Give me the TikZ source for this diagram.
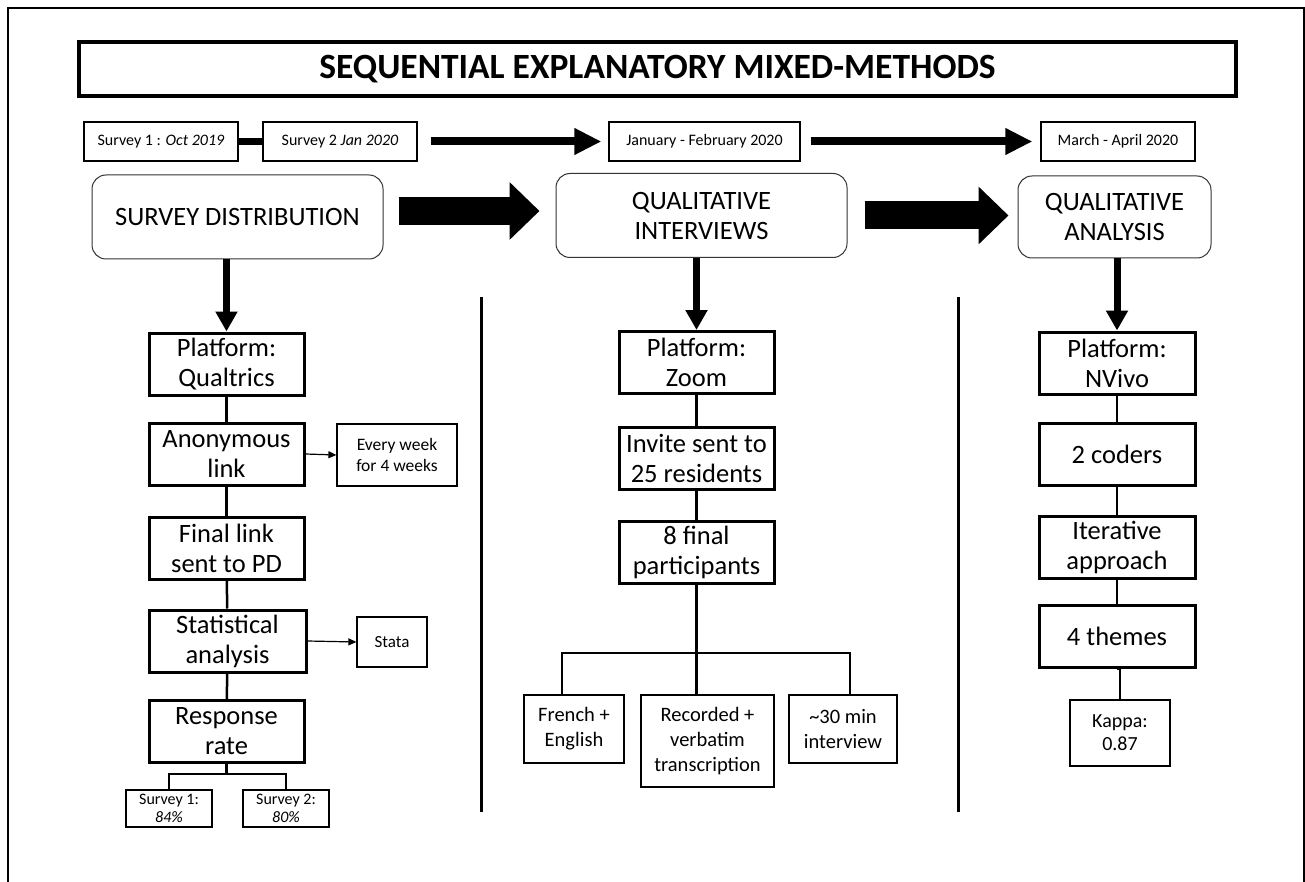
\documentclass[tikz,border=0pt]{standalone}
\usepackage{fontspec}
\setmainfont{Carlito}
\usetikzlibrary{arrows.meta}

\tikzset{
  stage/.style={draw=black!80, line width=1pt, rounded corners=14pt, align=center, inner sep=0pt, font=\fontsize{26.5}{30}\selectfont},
  stepbox/.style={draw, line width=3pt, align=center, inner sep=0pt, minimum width=155pt, minimum height=62pt, font=\fontsize{26.5}{30}\selectfont},
  datebox/.style={draw, line width=1.2pt, inner sep=0pt, minimum width=154pt, minimum height=39pt, font=\fontsize{16}{18}\selectfont},
  notebox/.style={draw, line width=1.2pt, align=center, inner sep=0pt},
  link/.style={line width=2.5pt},
  bigarrow/.style={line width=28pt, -{Triangle[length=30pt 0 0, width=56pt 0 0]}},
  timearrow/.style={line width=8pt, -{Triangle[length=27pt 0 0, width=25pt 0 0]}},
  downarrow/.style={line width=7pt, -{Triangle[length=20pt 0 0, width=21pt 0 0]}},
  sidearrow/.style={line width=1.2pt, -{Triangle[length=8pt 0 0, width=7pt 0 0]}}
}

\begin{document}
\begin{tikzpicture}[x=1pt, y=-1pt]

\fill[white] (0,0) rectangle (1305,882);
\useasboundingbox (0,0) rectangle (1305,882);

\draw[line width=2pt] (8,882) -- (8,8) -- (1304,8) -- (1304,882);

\node[draw, line width=4pt, minimum width=1157pt, minimum height=54pt, inner sep=0pt, font=\bfseries\fontsize{35.5}{40}\selectfont] (title) at (657.5,69) {SEQUENTIAL EXPLANATORY MIXED-METHODS};

% timeline
\node[datebox] (t1) at (161,141.5) {Survey 1 : \textit{Oct 2019}};
\node[datebox] (t2) at (340,141.5) {Survey 2 \textit{Jan 2020}};
\node[datebox, minimum width=191pt] (t3) at (704.5,141.5) {January - February 2020};
\node[datebox] (t4) at (1118,141.5) {March - April 2020};

\draw[line width=7pt] (t1) -- (t2);
\draw[timearrow, shorten <=13pt, shorten >=7pt] (t2.east) -- (t3.west);
\draw[timearrow, shorten <=10pt, shorten >=8pt] (t3.east) -- (t4.west);

% stages
\node[stage, minimum width=291pt, minimum height=84pt] (survey) at (237.5,217) {SURVEY DISTRIBUTION};
\node[stage, minimum width=291pt, minimum height=84pt] (interviews) at (701.5,215.5) {QUALITATIVE\\INTERVIEWS};
\node[stage, minimum width=193pt, minimum height=82pt] (analysis) at (1114.5,217) {QUALITATIVE\\ANALYSIS};

\draw[bigarrow, shorten <=15pt, shorten >=16pt] ([yshift=6pt]survey.east) -- ([yshift=6pt]survey.east -| interviews.west);
\draw[bigarrow, shorten <=17pt, shorten >=9pt] (interviews.east) -- (interviews.east -| analysis.west);

\foreach \x in {481.5,958}
\draw[line width=3pt] (\x,297) -- (\x,812);

% survey column
\node[stepbox] (qualtrics) at (226.5,364) {Platform:\\Qualtrics};
\node[stepbox] (anon) at (226.5,454) {Anonymous\\link};
\node[stepbox] (final) at (226.5,548) {Final link\\sent to PD};
\node[stepbox, minimum width=157pt] (stat) at (227.5,641) {Statistical\\analysis};
\node[stepbox] (resp) at (226.5,731.5) {Response\\rate};
\node[notebox, minimum width=120pt, minimum height=62pt, font=\fontsize{17.5}{21.5}\selectfont] (weekly) at (397,455) {Every week\\for 4 weeks};
\node[notebox, minimum width=70pt, minimum height=50pt, font=\fontsize{17}{20}\selectfont] (stata) at (392,642) {Stata};
\node[notebox, minimum width=86pt, minimum height=37pt, font=\fontsize{16}{18}\selectfont] (rate1) at (169,808.5) {Survey 1:\\\textit{84\%}};
\node[notebox, minimum width=86pt, minimum height=37pt, font=\fontsize{16}{18}\selectfont] (rate2) at (286,808.5) {Survey 2:\\\textit{80\%}};
\coordinate (forkL) at (226.5,774);

\draw[downarrow] (survey.south -| qualtrics.north) -- (qualtrics.north);
\draw[link] (qualtrics) -- (anon);
\draw[link] (anon) -- (final);
\draw[link] (final) -- (stat);
\draw[link] (stat) -- (resp);
\draw[sidearrow] (anon.east) -- (weekly.west);
\draw[sidearrow] (stat.east) -- (stata.west);
\draw[link] (resp.south) -- (forkL);
\draw[link] (rate1.north) |- (forkL) -| (rate2.north);

% interview column
\node[stepbox] (zoom) at (696.5,362.5) {Platform:\\Zoom};
\node[stepbox] (invite) at (696.5,458.5) {Invite sent to\\25 residents};
\node[stepbox] (eight) at (696.5,552.5) {8 final\\participants};
\node[notebox, minimum width=100pt, minimum height=68pt, font=\fontsize{20.5}{25}\selectfont] (lang) at (574,729) {French +\\English};
\node[notebox, minimum width=133pt, minimum height=92pt, font=\fontsize{20.5}{25}\selectfont] (record) at (707.5,741) {Recorded +\\verbatim\\transcription};
\node[notebox, minimum width=108pt, minimum height=68pt, font=\fontsize{20.5}{25}\selectfont] (length) at (843,729) {\textasciitilde30 min\\interview};
\coordinate (forkM) at (696.5,653);

\draw[downarrow] (interviews.south -| zoom.north) -- (zoom.north);
\draw[link] (zoom) -- (invite);
\draw[link] (invite) -- (eight);
\draw[link] (eight.south) -- (forkM);
\draw[link] ([xshift=-12pt]lang.north) |- (forkM) -| ([xshift=7pt]length.north);
\draw[link] (forkM) -- (forkM |- record.north);

% analysis column
\node[stepbox, minimum width=156pt] (nvivo) at (1117,363) {Platform:\\NVivo};
\node[stepbox, minimum width=156pt] (coders) at (1117,454) {2 coders};
\node[stepbox, minimum width=156pt] (iter) at (1117,547.5) {Iterative\\approach};
\node[stepbox, minimum width=156pt] (themes) at (1117,636.5) {4 themes};
\node[notebox, minimum width=100pt, minimum height=66pt, font=\fontsize{20}{23}\selectfont] (kappa) at (1120,733) {Kappa:\\0.87};

\draw[downarrow] (analysis.south -| nvivo.north) -- (nvivo.north);
\draw[link] (nvivo) -- (coders);
\draw[link] (coders) -- (iter);
\draw[link] (iter) -- (themes);
\draw[link] (themes.south) -- (themes.south -| kappa.north) -- (kappa.north);

\end{tikzpicture}
\end{document}
